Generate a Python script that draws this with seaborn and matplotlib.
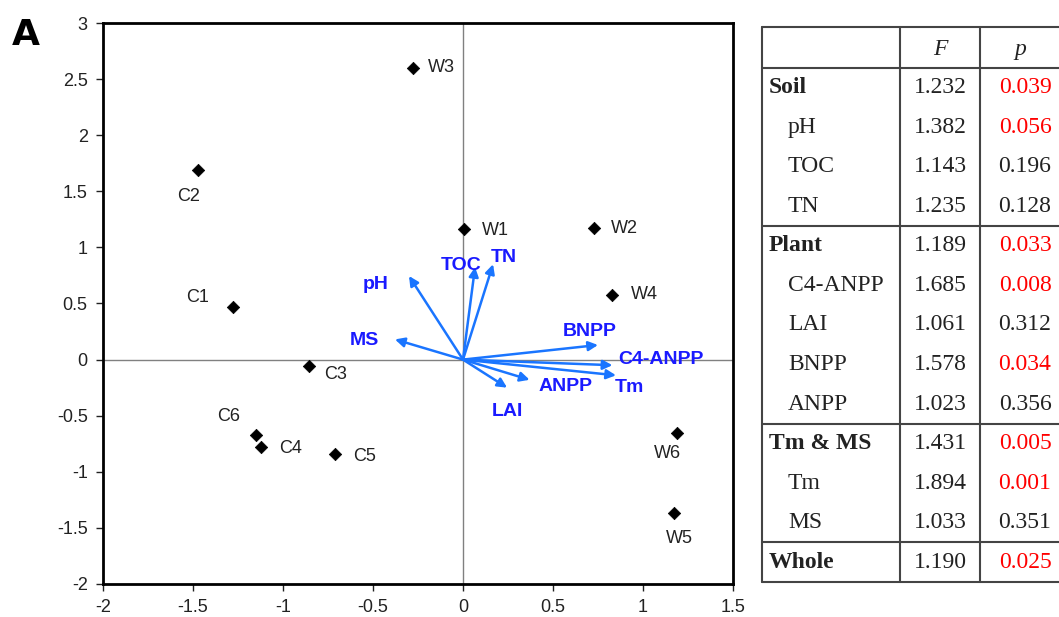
import numpy as np
import matplotlib
matplotlib.use("Agg")
import matplotlib.pyplot as plt
import seaborn as sns
import pandas as pd

# site scores
sites = ["W3", "C2", "W1", "W2", "W4", "C1", "C3", "C6", "C4", "C5", "W6", "W5"]
site_x = [-0.28, -1.47, 0.005, 0.73, 0.83, -1.28, -0.855, -1.15, -1.12, -0.71, 1.19, 1.17]
site_y = [2.60, 1.69, 1.16, 1.17, 0.58, 0.47, -0.06, -0.67, -0.78, -0.84, -0.65, -1.37]

# environmental vectors
env = ["pH", "TOC", "TN", "MS", "BNPP", "C4-ANPP", "Tm", "ANPP", "LAI"]
env_x = [-0.30, 0.067, 0.167, -0.378, 0.75, 0.83, 0.85, 0.37, 0.245]
env_y = [0.745, 0.825, 0.85, 0.18, 0.13, -0.05, -0.14, -0.18, -0.25]

# table
tab_rows = ["Soil", "pH", "TOC", "TN", "Plant", "C4-ANPP", "LAI", "BNPP", "ANPP",
            "Tm & MS", "Tm", "MS", "Whole"]
tab_group = [True, False, False, False, True, False, False, False, False,
             True, False, False, True]
tab_F = ["1.232", "1.382", "1.143", "1.235", "1.189", "1.685", "1.061", "1.578",
         "1.023", "1.431", "1.894", "1.033", "1.190"]
tab_p = ["0.039", "0.056", "0.196", "0.128", "0.033", "0.008", "0.312", "0.034",
         "0.356", "0.005", "0.001", "0.351", "0.025"]
p_red = [True, True, False, False, True, True, False, True, False, True, True, False, True]

sns.set_style("white")
plt.rcParams["font.family"] = ["Liberation Sans", "DejaVu Sans"]

W, H = 1059, 617
fig = plt.figure(figsize=(W / 100, H / 100), dpi=100)
ax = fig.add_axes([103 / W, 1 - 584 / H, 630 / W, 561 / H])

df = pd.DataFrame({"site": sites, "x": site_x, "y": site_y})
ax.axhline(0, color="#808080", lw=1, zorder=1)
ax.axvline(0, color="#808080", lw=1, zorder=1)
sns.scatterplot(data=df, x="x", y="y", marker="D", color="black", s=40,
                edgecolor="black", ax=ax, zorder=3)

# label offsets (points)
offs = {"W3": (11, 0, "left"), "C2": (-7, -19, "center"), "W1": (13, -1, "left"),
        "W2": (12, 0, "left"), "W4": (13, 0, "left"), "C1": (-25, 7, "center"),
        "C3": (11, -6, "left"), "C6": (-20, 13, "center"), "C4": (13, -1, "left"),
        "C5": (13, -2, "left"), "W6": (-7, -15, "center"), "W5": (4, -18, "center")}
for s, x, y in zip(sites, site_x, site_y):
    dx, dy, ha = offs[s]
    ax.annotate(s, (x, y), xytext=(dx, dy), textcoords="offset points",
                ha=ha, va="center", fontsize=13, color="#222222")

arrow_c = "#1a75ff"
lab_offs = {"pH": (-24, -6), "TOC": (-10, 1), "TN": (8, 5), "MS": (-22, -1),
            "BNPP": (-6, 10), "C4-ANPP": (35, 4), "Tm": (10, -9), "ANPP": (26, -5),
            "LAI": (0, -17)}
for e, x, y in zip(env, env_x, env_y):
    ax.annotate("", xy=(x, y), xytext=(0, 0),
                arrowprops=dict(arrowstyle="-|>", color=arrow_c, lw=1.8,
                                mutation_scale=14, shrinkA=0, shrinkB=0), zorder=4)
    dx, dy = lab_offs[e]
    ax.annotate(e, (x, y), xytext=(dx, dy), textcoords="offset points",
                ha="center", va="center", fontsize=14, fontweight="bold",
                color="#1a1aff", zorder=5)

ax.set_xlim(-2, 1.5)
ax.set_ylim(-2, 3)
ax.set_xticks(np.arange(-2, 1.51, 0.5))
ax.set_yticks(np.arange(-2, 3.01, 0.5))
ax.set_xticklabels(["-2", "-1.5", "-1", "-0.5", "0", "0.5", "1", "1.5"])
ax.set_yticklabels(["-2", "-1.5", "-1", "-0.5", "0", "0.5", "1", "1.5", "2", "2.5", "3"])
ax.tick_params(direction="out", length=5, width=1, labelsize=13, colors="#222222",
               left=True, bottom=True, pad=6)
ax.set_xlabel("")
ax.set_ylabel("")
for sp in ax.spines.values():
    sp.set_color("black")
    sp.set_linewidth(2)
    sp.set_visible(True)

fig.text(12 / W, 1 - 35 / H, "A", fontsize=26, fontweight="bold", va="center",
         ha="left", family="DejaVu Sans", color="black")

# table drawn in pixel coords
tx = fig.add_axes([0, 0, 1, 1])
tx.set_xlim(0, W)
tx.set_ylim(H, 0)
tx.axis("off")
left, c1, c2, right = 762, 900, 980, W
top, hb, bottom = 27, 68, 582
rh = (bottom - hb) / len(tab_rows)
lc = "#444444"
for yy in [top, hb, hb + 4 * rh, hb + 9 * rh, hb + 12 * rh, bottom]:
    tx.plot([left, right], [yy, yy], color=lc, lw=1.5)
for xx in [left, c1, c2]:
    tx.plot([xx, xx], [top, bottom], color=lc, lw=1.5)
serif = ["Liberation Serif", "DejaVu Serif"]
fs = 17
tx.text((c1 + c2) / 2, (top + hb) / 2 + 2, "F", style="italic", family=serif,
        fontsize=fs, ha="center", va="center", color="#222222")
tx.text(1020, (top + hb) / 2 + 2, "p", style="italic", family=serif,
        fontsize=fs, ha="center", va="center", color="#222222")
for i, (r, g, f, p, red) in enumerate(zip(tab_rows, tab_group, tab_F, tab_p, p_red)):
    yc = hb + (i + 0.5) * rh
    tx.text(left + 7 if g else left + 26, yc, r, family=serif, fontsize=fs,
            fontweight="bold" if g else "normal", ha="left", va="center",
            color="#222222")
    tx.text((c1 + c2) / 2, yc, f, family=serif, fontsize=fs, ha="center", va="center",
            color="#222222")
    tx.text(1025, yc, p, family=serif, fontsize=fs, ha="center", va="center",
            color="red" if red else "#222222")

fig.savefig("out.png", dpi=100)
